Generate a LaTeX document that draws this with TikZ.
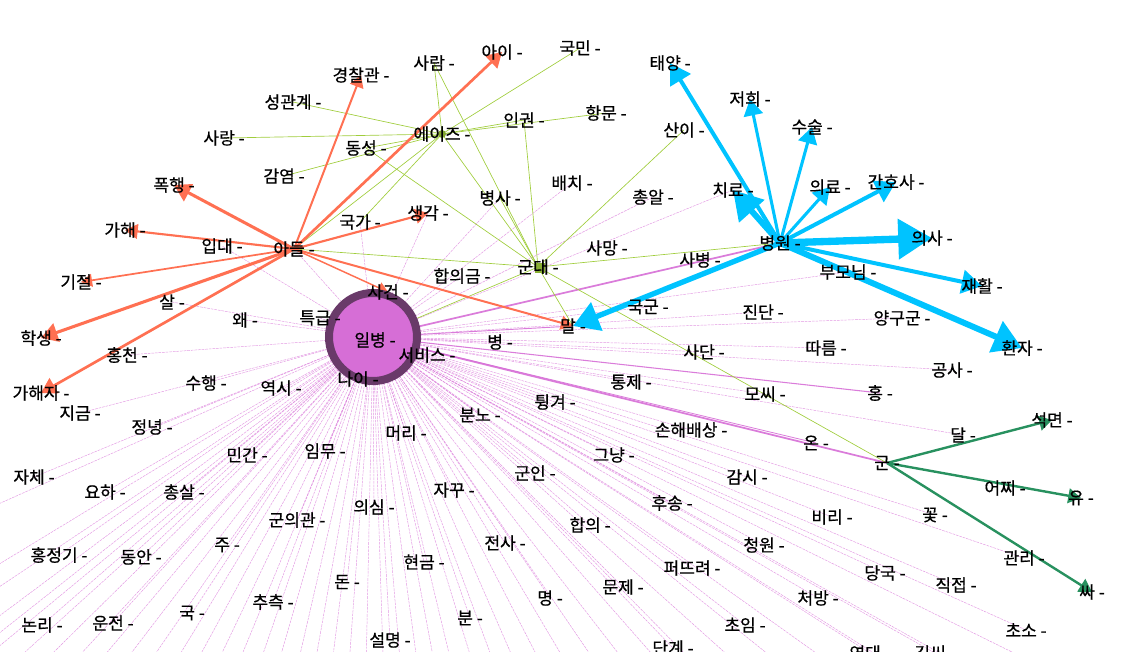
\documentclass[tikz,border=0pt]{standalone}
\usepackage{fontspec}
\setmainfont{Noto Sans CJK KR}
\newfontfamily\lblfont[FakeBold=0.6]{Noto Sans CJK KR}
\usetikzlibrary{arrows.meta}
\definecolor{hospblue}{RGB}{0,195,255}
\definecolor{sonorange}{RGB}{255,112,82}
\definecolor{aidsgreen}{RGB}{160,205,60}
\definecolor{gungreen}{RGB}{40,145,95}
\definecolor{pvtpink}{RGB}{214,110,214}
\definecolor{hubring}{RGB}{105,58,105}
\pgfdeclarelayer{edges}
\pgfsetlayers{edges,main}

\begin{document}
\begin{tikzpicture}[>={Triangle[scale=1.3]}, x=0.75pt, y=-0.75pt,
    lbl/.style={inner sep=0pt, font=\lblfont\fontsize{12.8}{14}\selectfont, text=black},
    sonedge/.style={-{Triangle[scale=1.3]}, draw=sonorange, fill=sonorange, line width=#1},
    hospedge/.style={->, draw=hospblue, fill=hospblue, line width=#1},
    gunedge/.style={-{Triangle[scale=1.2]}, draw=gungreen, fill=gungreen, line width=1.8pt},
    aidsedge/.style={draw=aidsgreen, line width=0.5pt},
    pvtedge/.style={draw=pvtpink, line width=0.35pt, opacity=0.7, dash pattern=on 2pt off 0.7pt},
    pvtthick/.style={draw=pvtpink, line width=#1, opacity=0.9}]
\useasboundingbox (0,0) rectangle (1129,651);

% big hub
\node[circle, fill=pvtpink, draw=hubring, line width=6pt, minimum size=66pt, inner sep=0pt] (ilbyeong) at (373,337) {};
\node[circle, fill=aidsgreen!80!black, inner sep=0pt, minimum size=6pt] (aidsdot) at (442,134) {};
\node[fill=aidsgreen!85!black, inner sep=0pt, minimum size=7pt] (gundaedot) at (540,268) {};

% labels
\foreach \nm/\px/\py/\txt in {
  gyeongchal/361/75/경찰관, saram/434/63/사람, ai/502/52/아이, gukmin/580/48/국민,
  taeyang/670/63/태양, jeohui/750/99/저희, seonggwan/293/102/성관계, sarang/224/138/사랑,
  aids/442/134/에이즈, ingwon/524/120/인권, hangmun/606/113/항문, dongseong/366/148/동성,
  sani/684/130/산이, suseul/812/127/수술, gamyeom/284/176/감염, pokhaeng/174/185/폭행,
  baechi/572/183/배치, byeongsa/500/198/병사, chongal/653/197/총알, chiryo/733/190/치료,
  uiryo/830/187/의료, ganhosa/896/182/간호사, saenggak/428/213/생각, gukga/360/222/국가,
  gahae/125/230/가해, ipdae/222/246/입대, adeul/294/249/아들, samang/607/248/사망,
  byeongwon/780/243/병원, uisa/932/238/의사, sabyeong/700/260/사병, gundae/538/267/군대,
  bumonim/848/272/부모님, hapuigeum/462/276/합의금, gijeol/81/282/기절, jaehwal/982/286/재활,
  sageon/388/292/사건, sal/172/302/살, gukgun/648/307/국군, jindan/763/312/진단,
  teukgeup/320/318/특급, wae/245/320/왜, yanggugun/902/318/양구군, mal/573/326/말,
  haksaeng/41/338/학생, ilbyeonglbl/375/340/일병, byeong/500/342/병, ttareum/826/348/따름,
  hwanja/1022/348/환자, sadan/704/352/사단, hongcheon/127/355/홍천, seobiseu/427/355/서비스,
  gongsa/952/370/공사, nai/358/379/나이, suhaeng/206/383/수행, tongje/631/382/통제,
  yeoksi/281/388/역시, gahaeja/41/393/가해자, mossi/765/394/모씨, hong/880/393/홍,
  tunggyeo/555/402/튕겨, jigeum/80/413/지금, bunno/480/415/분노, seokmyeon/1052/420/석면,
  jeongnyeong/152/427/정녕, sonhae/691/430/손해배상, meori/406/433/머리, dal/963/435/달,
  onn/816/443/온, immu/325/451/임무, mingan/247/455/민간, geunyang/614/455/그냥,
  gun/887/463/군, gunin/535/473/군인, gamsi/747/477/감시, jache/34/477/자체,
  eojji/1005/488/어찌, jakku/454/490/자꾸, yoha/105/492/요하, chongsal/184/492/총살,
  yu/1081/498/유, husong/672/503/후송, uisim/374/507/의심, biri/832/517/비리,
  kkot/935/515/꽃, gunuigwan/297/520/군의관, hapui/590/525/합의, jeonsa/505/543/전사,
  ju/227/545/주, cheongwon/764/545/청원, hongjeonggi/59/555/홍정기, dongan/141/557/동안,
  gwalli/1024/558/관리, hyeongeum/424/562/현금, peotteuryeo/692/568/퍼뜨려, danguk/885/573/당국,
  don/347/582/돈, jikjeop/956/585/직접, munje/623/587/문제, ssa/1092/592/싸,
  myeong/550/598/명, cheobang/818/598/처방, chucheuk/273/602/추측, guk/192/613/국,
  bun/470/618/분, unjeon/113/623/운전, nonri/42/625/논리, choim/745/625/초임,
  choso/1026/630/초소, seolmyeong/390/640/설명, dangye/673/648/단계, yeondae/870/653/연대,
  gimssi/935/653/김씨}
  \node[lbl] (\nm) at (\px,\py) {\txt\ -};

\begin{pgfonlayer}{edges}
% faint fan from the hub
\foreach \b in {adeul, ipdae, gukga, saenggak, byeongsa, baechi, chongal, chiryo, hapuigeum,
  sageon, teukgeup, wae, sal, gukgun, jindan, bumonim, yanggugun, byeong, seobiseu, sadan,
  ttareum, gongsa, tongje, mossi, dal, kkot, gwalli, hongcheon, suhaeng, yeoksi, jigeum,
  jeongnyeong, jache, nai, tunggyeo, bunno, sonhae, meori, immu, mingan, geunyang, gunin,
  gamsi, jakku, yoha, chongsal, husong, uisim, biri, gunuigwan, hapui, jeonsa, ju, cheongwon,
  hongjeonggi, dongan, hyeongeum, peotteuryeo, danguk, don, jikjeop, munje, myeong, cheobang,
  chucheuk, guk, bun, unjeon, nonri, choim, choso, seolmyeong, dangye, yeondae, gimssi}
  \draw[pvtedge] (ilbyeong.center) -- (\b.center);
\foreach \x in {-200,-140,-90,-50,-15,20,50,80,110,140,165,190,215,240,262,285,305,325,345,
  365,385,405,425,445,465,490,515,540,570,600,635,670,710,750,800,850,910,980,1060,1150}
  {\coordinate (off\x) at (\x,720);
   \draw[pvtedge] (ilbyeong.center) -- (off\x);}
\foreach \y in {530,600,680}
  {\coordinate (left\y) at (-60,\y);
   \draw[pvtedge] (ilbyeong.center) -- (left\y);}
\draw[pvtthick=1.3pt] (ilbyeong.center) -- (byeongwon.center);
\draw[pvtthick=1.3pt] (ilbyeong.center) -- (gun.center);
\draw[pvtthick=0.8pt] (ilbyeong.center) -- (hong.center);
\draw[pvtthick=0.7pt] (ilbyeong.center) -- (mal.center);
\draw[pvtthick=0.6pt] (ilbyeong.center) -- (onn.center);

% aids cluster
\foreach \b in {seonggwan, sarang, dongseong, gamyeom, saram, gukmin, ingwon, hangmun,
  adeul, gukga, gundae}
  \draw[aidsedge] (aids.center) -- (\b.center);
\foreach \b in {saram, ingwon, sani, adeul, byeongwon, ilbyeong, mal, gun, dongseong, byeongsa}
  \draw[aidsedge] (gundae.center) -- (\b.center);

% son cluster
\foreach \b/\w in {gyeongchal/1.5pt, ai/2pt, pokhaeng/2.3pt, gahae/1.6pt, gijeol/1.3pt,
  haksaeng/2.3pt, gahaeja/2pt, saenggak/1.6pt, sageon/1.1pt, mal/1.5pt}
  \draw[sonedge=\w] (adeul.center) -- (\b.center);

% hospital cluster
\foreach \b/\w in {taeyang/3pt, jeohui/2.3pt, chiryo/4.5pt, suseul/2.3pt, uiryo/2.3pt,
  ganhosa/3pt, uisa/5.5pt, jaehwal/3pt, hwanja/4.5pt, mal/4pt}
  \draw[hospedge=\w] (byeongwon.center) -- (\b.center);

% gun cluster
\foreach \b in {seokmyeon, yu, ssa}
  \draw[gunedge] (gun.center) -- (\b.center);
\end{pgfonlayer}
\end{tikzpicture}
\end{document}
